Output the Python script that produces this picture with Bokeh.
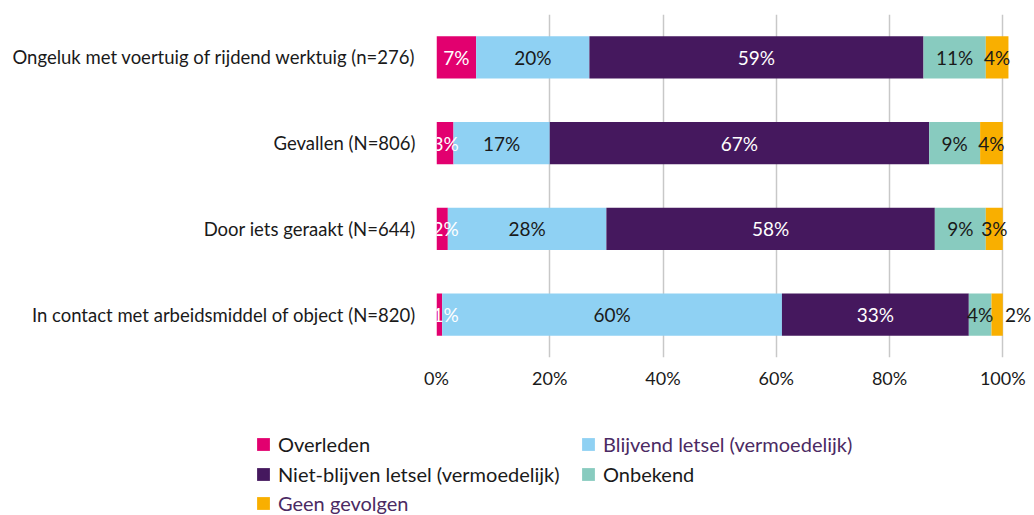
from bokeh.plotting import figure
from bokeh.layouts import column
from bokeh.models import (ColumnDataSource, FixedTicker, PrintfTickFormatter, Legend,
                          LegendItem, FactorRange, Range1d)
from bokeh.embed import file_html
from bokeh.resources import INLINE
from bokeh.core.properties import value

# ---------------- data ----------------
categories = [
    "Ongeluk met voertuig of rijdend werktuig (n=276)",
    "Gevallen (N=806)",
    "Door iets geraakt (N=644)",
    "In contact met arbeidsmiddel of object (N=820)",
]
series = [
    "Overleden",
    "Blijvend letsel (vermoedelijk)",
    "Niet-blijven letsel (vermoedelijk)",
    "Onbekend",
    "Geen gevolgen",
]
overleden = [7, 3, 2, 1]
blijvend = [20, 17, 28, 60]
niet_blijvend = [59, 67, 58, 33]
onbekend = [11, 9, 9, 4]
geen_gevolgen = [4, 4, 3, 2]
x_ticks = [0, 20, 40, 60, 80, 100]

# ---------------- style ----------------
colors = ["#E2006F", "#8FD1F3", "#45185E", "#88CBBF", "#F9AF00"]
label_colors = ["#ffffff", "#1a1a1a", "#ffffff", "#1a1a1a", "#1a1a1a"]
legend_text_colors = ["#1a1a1a", "#4B2A63", "#1a1a1a", "#1a1a1a", "#4B2A63"]
FONT = "Lato"
TEXT = "#1a1a1a"
W = 1034
H_MAIN = 400
H_LEG = 115

keys = ["s0", "s1", "s2", "s3", "s4"]
values = [overleden, blijvend, niet_blijvend, onbekend, geen_gevolgen]
data = {"cat": categories}
for k, v in zip(keys, values):
    data[k] = v
source = ColumnDataSource(data)

p = figure(
    width=W, height=H_MAIN,
    y_range=FactorRange(*reversed(categories)),
    x_range=Range1d(0, 105.6),
    output_backend="svg", toolbar_location=None,
    min_border_left=436, min_border_right=0, min_border_top=14,
    min_border_bottom=H_MAIN - 357,
)
p.outline_line_color = None
p.background_fill_color = "white"
p.border_fill_color = "white"
p.frame_align = False

renderers = p.hbar_stack(keys, y="cat", height=0.49, color=colors, line_color=None,
                         source=source)

# value labels
lx, ly, lt, lc, lo = [], [], [], [], []
for i, cat in enumerate(categories):
    left = 0
    for j, v in enumerate(values):
        val = v[i]
        lx.append(left + val / 2)
        ly.append(cat)
        lt.append(f"{val}%")
        last = j == len(values) - 1
        outside = last and val <= 2
        lc.append(TEXT if outside else label_colors[j])
        if outside:
            lo.append(21)
        elif j == 0:
            lo.append(max(0.0, 9 - val * 2.83))
        else:
            lo.append(0)
        left += val
p.text(x="x", y="y", text="t", text_color="c", x_offset="o",
       source=ColumnDataSource(dict(x=lx, y=ly, t=lt, c=lc, o=lo)),
       text_align="center", text_baseline="middle",
       text_font=value(FONT), text_font_size="19px")

# axes
p.xaxis.ticker = FixedTicker(ticks=x_ticks)
p.xaxis.formatter = PrintfTickFormatter(format="%d%%")
for ax in (p.xaxis, p.yaxis):
    ax.axis_line_color = None
    ax.major_tick_line_color = None
    ax.minor_tick_line_color = None
    ax.major_tick_out = 0
    ax.major_tick_in = 0
    ax.major_label_text_font = FONT
    ax.major_label_text_color = TEXT
p.xaxis.major_label_text_font_size = "18px"
p.xaxis.major_label_standoff = 9
p.yaxis.major_label_text_font_size = "18.5px"
p.yaxis.major_label_standoff = 21

p.xgrid.ticker = FixedTicker(ticks=x_ticks)
p.xgrid.grid_line_color = "#C8C8C8"
p.xgrid.grid_line_width = 1.5
p.ygrid.grid_line_color = None

# ---------------- legend panel ----------------
lg = figure(
    width=W, height=H_LEG, x_range=Range1d(0, W), y_range=Range1d(0, H_LEG),
    output_backend="svg", toolbar_location=None,
    min_border_left=0, min_border_right=0, min_border_top=0, min_border_bottom=0,
)
lg.axis.visible = False
lg.grid.visible = False
lg.outline_line_color = None
lg.border_fill_color = "white"
lg.frame_align = False

legend_pos = [(255, 59), (580, 59), (255, 29), (580, 29), (255, 0)]
for name, col, tc, pos in zip(series, colors, legend_text_colors, legend_pos):
    # legend-only swatch renderer, its single point lies outside the visible range
    r = lg.rect(x=[-500], y=[-500], width=1, height=1, fill_color=col, line_color=None)
    leg = Legend(items=[LegendItem(label=name, renderers=[r])], location=pos,
                 glyph_width=16, glyph_height=16, label_standoff=7,
                 padding=0, margin=0, border_line_color=None,
                 background_fill_alpha=0, label_height=16,
                 label_text_font=FONT, label_text_font_size="20px",
                 label_text_color=tc)
    lg.add_layout(leg)

layout = column(p, lg, spacing=0)
open("out.html", "w").write(file_html(layout, INLINE))
